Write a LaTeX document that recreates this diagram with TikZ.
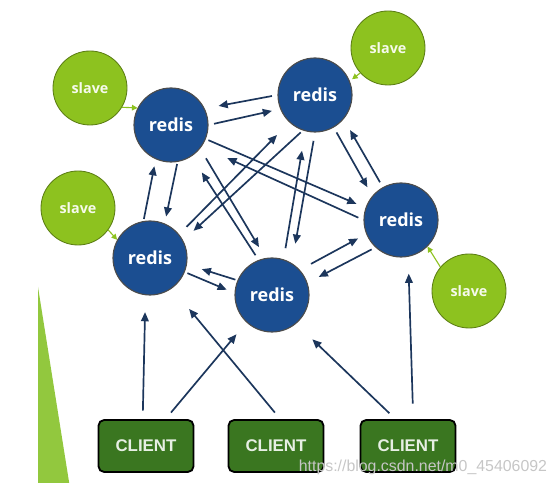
\documentclass[tikz,border=0pt]{standalone}
\usepackage{fontspec}
\setmainfont{Open Sans}
\newfontfamily\boxfont{Liberation Sans}
\usepackage{tikz}
\usetikzlibrary{arrows.meta}
\usepackage{xcolor}
\definecolor{redisblue}{RGB}{27,78,145}
\definecolor{slavegreen}{RGB}{141,194,31}
\definecolor{clientgreen}{RGB}{58,118,32}
\definecolor{linkblue}{RGB}{28,54,92}
\definecolor{wedgegreen}{RGB}{146,200,62}

\begin{document}
\begin{tikzpicture}[>={Triangle[length=6.5pt,width=5.5pt]},
  redis/.style={circle,draw=gray!60!black,line width=0.8pt,fill=redisblue,text=white,minimum size=1.85cm,inner sep=0pt,font=\bfseries\fontsize{12.8}{14}\selectfont},
  slave/.style={circle,draw=slavegreen!65!black,line width=0.6pt,fill=slavegreen,text=white!92!slavegreen,minimum size=1.85cm,inner sep=0pt,font=\bfseries\fontsize{10.2}{12}\selectfont},
  client/.style={draw=black,line width=1.3pt,rounded corners=4pt,fill=clientgreen,text=white!88!clientgreen,minimum width=2.375cm,minimum height=1.3cm,font=\boxfont\bfseries\fontsize{12}{13}\selectfont},
  link/.style={->,draw=linkblue,line width=1.2pt,shorten <=4pt,shorten >=9pt},
  feed/.style={-{Triangle[length=4pt,width=4pt]},draw=slavegreen,line width=0.8pt}]
\useasboundingbox (0,0) rectangle (14,12.075);
\fill[wedgegreen] (0.95,4.9) -- (0.95,0) -- (1.73,0) -- cycle;

\node[redis] (r1) at (4.275,8.95) {redis};
\node[redis] (r2) at (7.875,9.7) {redis};
\node[redis] (r3) at (10.025,6.575) {redis};
\node[redis] (r4) at (3.75,5.625) {redis};
\node[redis] (r5) at (6.8,4.7) {redis};

\node[slave] (s1) at (2.25,9.875) {slave};
\node[slave] (s2) at (1.95,6.875) {slave};
\node[slave] (s3) at (9.7,10.875) {slave};
\node[slave] (s4) at (11.725,4.8) {slave};

\node[client] (c1) at (3.65,0.925) {CLIENT};
\node[client] (c2) at (6.9,0.925) {CLIENT};
\node[client] (c3) at (10.2,0.925) {CLIENT};

% redis <-> redis, one arrow each way
\draw[link,shorten >=10pt] (r2.180) -- (r1.26);
\draw[link,shorten >=6pt] (r1.0) -- (r2.202);
\draw[link,shorten <=1.5pt,shorten >=5pt] (r4.100) -- (r1.246);
\draw[link,shorten <=1.5pt,shorten >=5pt] (r1.280) -- (r4.67);
\draw[link,shorten <=8pt] (r1.-39) -- (r5.100);
\draw[link,shorten >=13.5pt] (r5.111) -- (r1.-57);
\draw[link,shorten <=2pt,shorten >=7pt] (r1.-22) -- (r3.161);
\draw[link,shorten >=20pt] (r3.180) -- (r1.-35);
\draw[link,shorten <=7.5pt,shorten >=12.5pt] (r4.39) -- (r2.227);
\draw[link,shorten <=2pt,shorten >=10pt] (r2.251) -- (r4.28);
\draw[link,shorten <=8pt,shorten >=14pt] (r5.72) -- (r2.255);
\draw[link,shorten <=6pt,shorten >=14pt] (r2.270) -- (r5.58);
\draw[link,shorten >=7pt] (r2.-60) -- (r3.140);
\draw[link] (r3.119) -- (r2.-40);
\draw[link,shorten <=1.5pt,shorten >=11pt] (r5.157) -- (r4.-10);
\draw[link,shorten <=2pt,shorten >=6pt] (r4.-22) -- (r5.177);
\draw[link,shorten <=9pt,shorten >=6.5pt] (r5.42) -- (r3.202);
\draw[link,shorten <=3pt] (r3.227) -- (r5.19);

% clients
\draw[link,shorten <=6pt,shorten >=12pt] (c1.97) -- (r4.263);
\draw[link,shorten <=6pt,shorten >=11pt] (c1.54) -- (r5.227);
\draw[link,shorten <=6pt,shorten >=19pt] (c2.81) -- (r4.306);
\draw[link,shorten <=6pt,shorten >=16pt] (c3.115) -- (r5.310);
\draw[link,shorten <=11pt,shorten >=12pt] (c3.79) -- (r3.281);

% slaves
\draw[feed] (s1.-31) -- (r1.153);
\draw[feed] (s2.-36) -- (r4.151);
\draw[feed,shorten >=2pt] (s3.222) -- (r2.22);
\draw[feed] (s4.140) -- (r3.-45);

\node[anchor=base east,text=gray!45,font=\boxfont\fontsize{11.3}{12}\selectfont] (mark) at (13.8,0.275) {https://blog.csdn.net/m0\_45406092};
\end{tikzpicture}
\end{document}
